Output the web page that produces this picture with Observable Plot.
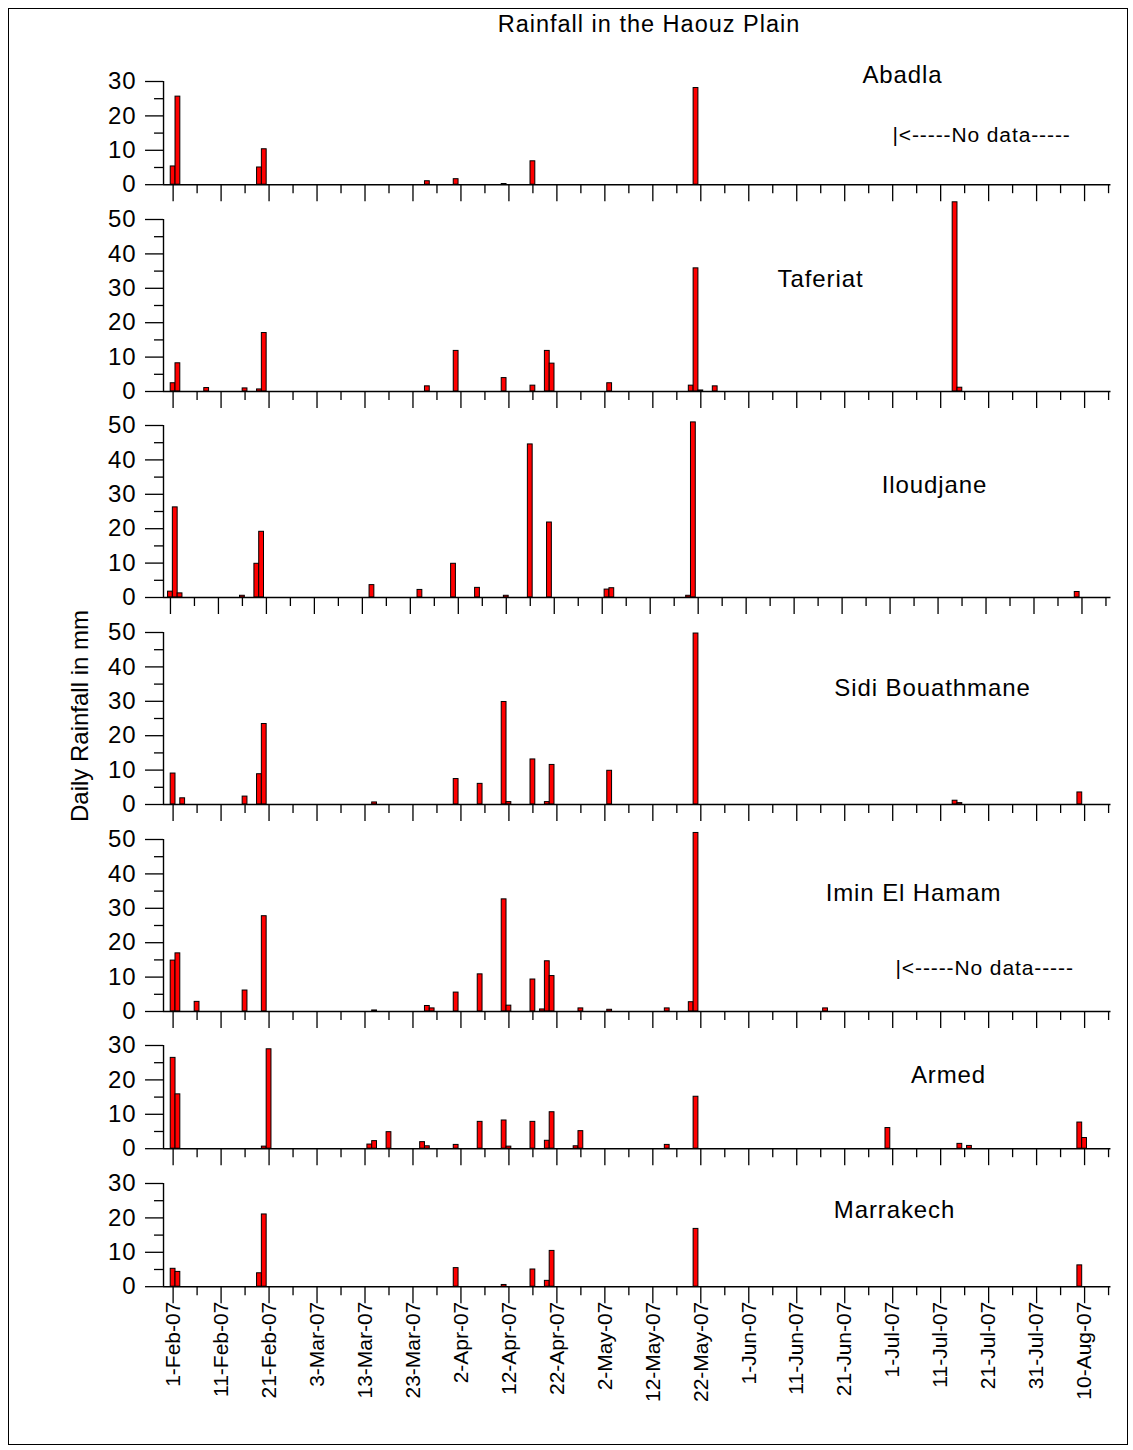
<!DOCTYPE html>
<html><head><meta charset="utf-8">
<script src="https://cdn.jsdelivr.net/npm/d3@7"></script>
<script src="https://cdn.jsdelivr.net/npm/@observablehq/plot@0.6"></script>
<style>
body{margin:0;background:#fff;}
#chart{position:relative;width:1133px;height:1450px;font-family:"Liberation Sans",Arial,sans-serif;background:#fff;}
#chart svg{position:absolute;left:0;overflow:visible;}
</style></head><body><div id="chart"></div>
<script>
// ---------------- DATA ----------------
const title = "Rainfall in the Haouz Plain";
const yLabel = "Daily Rainfall in mm";
const stations = ["Abadla", "Taferiat", "Iloudjane", "Sidi Bouathmane", "Imin El Hamam", "Armed", "Marrakech"];
const yTops = [30, 50, 50, 50, 50, 30, 30];
const noDataText = "|<-----No data-----";
const xTickLabels = ["1-Feb-07","11-Feb-07","21-Feb-07","3-Mar-07","13-Mar-07","23-Mar-07","2-Apr-07","12-Apr-07","22-Apr-07","2-May-07","12-May-07","22-May-07","1-Jun-07","11-Jun-07","21-Jun-07","1-Jul-07","11-Jul-07","21-Jul-07","31-Jul-07","10-Aug-07"];

const abadla = [["2007-02-01",5.3],["2007-02-02",25.6],["2007-02-19",5.0],["2007-02-20",10.3],["2007-03-26",1.0],["2007-04-01",1.6],["2007-04-11",0.2],["2007-04-17",6.8],["2007-05-21",28.1]];
const taferiat = [["2007-02-01",2.4],["2007-02-02",8.2],["2007-02-08",1.0],["2007-02-16",0.9],["2007-02-19",0.6],["2007-02-20",17.0],["2007-03-26",1.5],["2007-04-01",11.8],["2007-04-11",3.9],["2007-04-17",1.7],["2007-04-20",11.8],["2007-04-21",8.1],["2007-05-03",2.4],["2007-05-20",1.7],["2007-05-21",35.8],["2007-05-22",0.3],["2007-05-25",1.5],["2007-07-14",55.0],["2007-07-15",1.1]];
const iloudjane = [["2007-02-01",1.7],["2007-02-02",26.2],["2007-02-03",1.2],["2007-02-16",0.5],["2007-02-19",9.8],["2007-02-20",19.1],["2007-03-15",3.6],["2007-03-25",2.2],["2007-04-01",9.8],["2007-04-06",2.8],["2007-04-12",0.5],["2007-04-17",44.5],["2007-04-21",21.8],["2007-05-03",2.3],["2007-05-04",2.7],["2007-05-20",0.5],["2007-05-21",50.9],["2007-08-09",1.6]];
const sidiBouathmane = [["2007-02-01",9.0],["2007-02-03",1.8],["2007-02-16",2.3],["2007-02-19",8.8],["2007-02-20",23.4],["2007-03-15",0.6],["2007-04-01",7.4],["2007-04-06",6.0],["2007-04-11",29.8],["2007-04-12",0.7],["2007-04-17",13.1],["2007-04-20",0.7],["2007-04-21",11.5],["2007-05-03",9.8],["2007-05-21",49.7],["2007-07-14",1.1],["2007-07-15",0.4],["2007-08-09",3.5]];
const iminElHamam = [["2007-02-01",14.8],["2007-02-02",16.9],["2007-02-06",2.8],["2007-02-16",6.1],["2007-02-20",27.7],["2007-03-15",0.3],["2007-03-26",1.6],["2007-03-27",0.9],["2007-04-01",5.5],["2007-04-06",10.8],["2007-04-11",32.6],["2007-04-12",1.7],["2007-04-17",9.3],["2007-04-19",0.6],["2007-04-20",14.6],["2007-04-21",10.3],["2007-04-27",0.9],["2007-05-03",0.5],["2007-05-15",0.9],["2007-05-20",2.7],["2007-05-21",51.9],["2007-06-17",0.9]];
const armed = [["2007-02-01",26.4],["2007-02-02",15.8],["2007-02-20",0.6],["2007-02-21",28.9],["2007-03-14",1.2],["2007-03-15",2.2],["2007-03-18",4.8],["2007-03-25",1.9],["2007-03-26",0.7],["2007-04-01",1.1],["2007-04-06",7.8],["2007-04-11",8.2],["2007-04-12",0.6],["2007-04-17",7.8],["2007-04-20",2.3],["2007-04-21",10.6],["2007-04-26",0.7],["2007-04-27",5.1],["2007-05-15",1.1],["2007-05-21",15.1],["2007-06-30",6.0],["2007-07-15",1.4],["2007-07-17",0.8],["2007-08-09",7.6],["2007-08-10",3.1]];
const marrakech = [["2007-02-01",5.2],["2007-02-02",4.3],["2007-02-19",3.9],["2007-02-20",21.0],["2007-04-01",5.4],["2007-04-11",0.5],["2007-04-17",5.0],["2007-04-20",1.7],["2007-04-21",10.4],["2007-05-21",16.8],["2007-08-09",6.2]];
const series = [abadla, taferiat, iloudjane, sidiBouathmane, iminElHamam, armed, marrakech];
const noDataPanels = [0, 4];

// ---------------- LAYOUT ----------------
const W = 1133, H = 1450;
const PX_PER_MM = 3.44;
const ML = 163, MR = 22.5;
const firstTop = 80.7, gap = 34.7;
const labelPos = [[902,75],[820,278],[934,485],[932,688],[913,893],[948,1075],[894,1210]];
const noDataPos = [[892,134],[895,967]];
const xShiftDays = [0,0,0.55,0,0,0,0];

const parseDay = d3.utcParse("%Y-%m-%d");
const parseTick = d3.utcParse("%d-%b-%y");
const fmtTick = d3.utcFormat("%-d-%b-%y");
const DAY = 864e5, HALF = DAY / 2;
const majorTicks = xTickLabels.map(parseTick);
const minorTicks = majorTicks.map(d => d3.utcDay.offset(d, 5));
const baseStart = +majorTicks[0] - 2 * DAY;
const baseEnd = +majorTicks[0] + 195.5 * DAY;

const chart = document.getElementById("chart");

let axisTop = firstTop;
stations.forEach((name, i) => {
  const yTop = yTops[i];
  const plotH = yTop * PX_PER_MM;
  const last = i === stations.length - 1;
  const mt = 30, mb = last ? 150 : 22;
  const shift = xShiftDays[i] * DAY;
  const data = series[i].map(([d, v]) => ({date: parseDay(d), value: v}));
  const [lx, ly] = labelPos[i];
  const marks = [
    Plot.rect(data, {
      x1: d => new Date(+d.date - HALF), x2: d => new Date(+d.date + HALF),
      y1: 0, y2: "value", fill: "#ff0000", stroke: "#000", strokeWidth: 1
    }),
    Plot.ruleY([0], {stroke: "#000", strokeWidth: 1.4}),
    Plot.ruleX([new Date(baseStart + shift)], {y1: 0, y2: yTop, stroke: "#000", strokeWidth: 1.4}),
    Plot.axisY({ticks: d3.range(0, yTop + 1, 10), tickSize: 18, tickPadding: 9, fontSize: 24, label: null, stroke: "#000", strokeWidth: 1.3, fill: "#000"}),
    Plot.axisY({ticks: d3.range(5, yTop, 10), tickSize: 9, tickFormat: () => "", label: null, stroke: "#000", strokeWidth: 1.3}),
    Plot.axisX({ticks: majorTicks, tickSize: 17, label: null, stroke: "#000", strokeWidth: 1.3, fill: "#000",
      tickFormat: last ? fmtTick : () => "", tickRotate: last ? -90 : 0, fontSize: 21, tickPadding: -2}),
    Plot.axisX({ticks: minorTicks, tickSize: 9, label: null, stroke: "#000", strokeWidth: 1.3, tickFormat: () => ""}),
    Plot.text([name], {frameAnchor: "top-left", dx: lx - ML, dy: ly - axisTop, text: d => d,
      textAnchor: "middle", lineAnchor: "middle", fontSize: 24, fill: "#000"})
  ];
  const nd = noDataPanels.indexOf(i);
  if (nd >= 0) {
    const [nx, ny] = noDataPos[nd];
    marks.push(Plot.text([noDataText], {frameAnchor: "top-left", dx: nx - ML, dy: ny - axisTop, text: d => d,
      textAnchor: "start", lineAnchor: "middle", fontSize: 21, fill: "#000"}));
  }
  const svg = Plot.plot({
    width: W, height: mt + plotH + mb,
    marginLeft: ML, marginRight: MR, marginTop: mt, marginBottom: mb,
    style: {background: "none", overflow: "visible", fontFamily: '"Liberation Sans", Arial, sans-serif'},
    x: {type: "utc", domain: [new Date(baseStart + shift), new Date(baseEnd + shift)]},
    y: {domain: [0, yTop]},
    marks
  });
  svg.style.top = (axisTop - mt) + "px";
  d3.select(svg).selectAll('g[aria-label="y-axis tick label"] text, g[aria-label="text"] text')
    .style("letter-spacing", "0.9px");
  chart.appendChild(svg);
  axisTop += plotH + gap;
});

// overlay: frame, title, y-axis title
const ov = d3.select(chart).append("svg").attr("width", W).attr("height", H).style("top", "0px")
  .style("pointer-events", "none");
ov.append("rect").attr("x", 8.5).attr("y", 8.5).attr("width", 1119).attr("height", 1436)
  .attr("fill", "none").attr("stroke", "#000").attr("stroke-width", 1);
ov.append("text").attr("x", 649).attr("y", 24).attr("text-anchor", "middle").attr("dy", "0.35em")
  .attr("font-size", 23.5).style("letter-spacing", "1px").attr("font-family", '"Liberation Sans", Arial, sans-serif').text(title);
ov.append("text").attr("transform", "translate(80,716) rotate(-90)").attr("text-anchor", "middle").attr("dy", "0.35em")
  .attr("font-size", 24).attr("font-family", '"Liberation Sans", Arial, sans-serif').text(yLabel);
</script></body></html>
